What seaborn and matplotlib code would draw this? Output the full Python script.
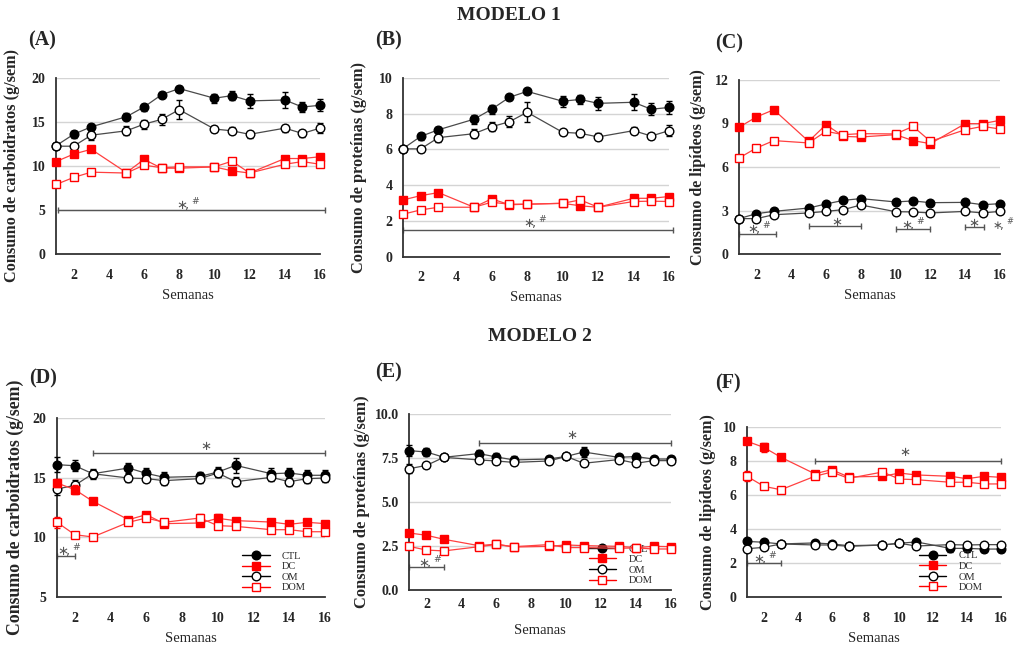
import numpy as np
import pandas as pd
import matplotlib
matplotlib.use("Agg")
import matplotlib.pyplot as plt
from matplotlib.lines import Line2D
import seaborn as sns

# ---------------- data ----------------
weeks_m1 = [1, 2, 3, 5, 6, 7, 8, 10, 11, 12, 14, 15, 16]
weeks_m2 = [1, 2, 3, 5, 6, 7, 9, 10, 11, 13, 14, 15, 16]
groups = ["CTL", "DC", "OM", "DOM"]

# Panel A - carbohydrates, model 1
a_ctl = [12.3, 13.6, 14.45, 15.6, 16.7, 18.1, 18.8, 17.7, 18.0, 17.4, 17.5, 16.7, 16.9]
a_ctl_e = [0.3, 0.4, 0.3, 0.4, 0.4, 0.3, 0.3, 0.5, 0.5, 0.8, 0.9, 0.6, 0.7]
a_om = [12.25, 12.25, 13.5, 14.0, 14.75, 15.3, 16.4, 14.2, 14.0, 13.6, 14.3, 13.7, 14.3]
a_om_e = [0.2, 0.3, 0.5, 0.5, 0.5, 0.6, 1.1, 0.3, 0.4, 0.4, 0.4, 0.4, 0.6]
a_dc = [10.5, 11.35, 11.9, 9.25, 10.75, 9.75, 9.75, 9.9, 9.45, 9.2, 10.85, 10.85, 11.05]
a_dc_e = [0.2, 0.2, 0.2, 0.2, 0.3, 0.2, 0.2, 0.2, 0.2, 0.2, 0.2, 0.2, 0.2]
a_dom = [7.9, 8.7, 9.3, 9.2, 10.1, 9.8, 9.9, 9.9, 10.55, 9.2, 10.2, 10.5, 10.2]
a_dom_e = [0.2, 0.2, 0.2, 0.2, 0.2, 0.2, 0.2, 0.2, 0.3, 0.2, 0.2, 0.2, 0.2]

# Panel B - proteins, model 1
b_ctl = [6.04, 6.73, 7.1, 7.69, 8.25, 8.92, 9.25, 8.7, 8.8, 8.58, 8.64, 8.25, 8.35]
b_ctl_e = [0.1, 0.2, 0.15, 0.25, 0.25, 0.15, 0.15, 0.3, 0.25, 0.35, 0.45, 0.35, 0.35]
b_om = [6.03, 6.03, 6.66, 6.88, 7.27, 7.55, 8.08, 6.96, 6.9, 6.7, 7.05, 6.75, 7.05]
b_om_e = [0.1, 0.15, 0.25, 0.25, 0.25, 0.3, 0.55, 0.15, 0.2, 0.2, 0.2, 0.15, 0.3]
b_dc = [3.17, 3.41, 3.58, 2.76, 3.23, 2.9, 2.93, 2.98, 2.84, 2.76, 3.26, 3.26, 3.36]
b_dc_e = [0.08, 0.1, 0.1, 0.08, 0.1, 0.08, 0.08, 0.08, 0.08, 0.08, 0.1, 0.1, 0.1]
b_dom = [2.37, 2.61, 2.76, 2.76, 3.04, 2.93, 2.93, 2.98, 3.17, 2.76, 3.08, 3.1, 3.08]
b_dom_e = [0.08, 0.08, 0.08, 0.08, 0.08, 0.08, 0.08, 0.08, 0.1, 0.08, 0.08, 0.08, 0.08]

# Panel C - lipids, model 1
c_ctl = [2.44, 2.78, 2.94, 3.17, 3.45, 3.7, 3.82, 3.59, 3.66, 3.54, 3.56, 3.4, 3.47]
c_ctl_e = [0.1, 0.1, 0.1, 0.1, 0.1, 0.1, 0.1, 0.1, 0.1, 0.1, 0.1, 0.1, 0.1]
c_om = [2.44, 2.44, 2.71, 2.83, 2.94, 3.06, 3.38, 2.92, 2.9, 2.83, 2.94, 2.83, 2.94]
c_om_e = [0.1, 0.1, 0.1, 0.1, 0.1, 0.1, 0.15, 0.1, 0.1, 0.1, 0.1, 0.1, 0.1]
c_dc = [8.74, 9.45, 9.95, 7.77, 8.92, 8.11, 8.07, 8.23, 7.82, 7.61, 8.99, 8.99, 9.22]
c_dc_e = [0.2, 0.2, 0.2, 0.2, 0.2, 0.2, 0.2, 0.2, 0.15, 0.2, 0.2, 0.2, 0.2]
c_dom = [6.62, 7.31, 7.82, 7.66, 8.46, 8.23, 8.3, 8.28, 8.8, 7.77, 8.57, 8.8, 8.62]
c_dom_e = [0.15, 0.15, 0.15, 0.2, 0.2, 0.2, 0.2, 0.2, 0.15, 0.2, 0.2, 0.2, 0.2]

# Panel D - carbohydrates, model 2
d_ctl = [16.09, 16.0, 15.33, 15.81, 15.36, 15.03, 15.11, 15.47, 16.03, 15.33, 15.39, 15.2, 15.2]
d_ctl_e = [0.65, 0.45, 0.4, 0.45, 0.45, 0.45, 0.4, 0.45, 0.6, 0.5, 0.45, 0.45, 0.45]
d_om = [14.05, 14.36, 15.33, 14.97, 14.92, 14.75, 14.92, 15.39, 14.66, 15.03, 14.66, 14.92, 14.97]
d_om_e = [0.5, 0.45, 0.35, 0.35, 0.3, 0.35, 0.35, 0.35, 0.4, 0.35, 0.35, 0.35, 0.35]
d_dc = [14.55, 14.0, 13.02, 11.48, 11.9, 11.15, 11.2, 11.59, 11.4, 11.28, 11.09, 11.26, 11.15]
d_dc_e = [0.3, 0.35, 0.25, 0.25, 0.25, 0.2, 0.25, 0.35, 0.25, 0.25, 0.25, 0.2, 0.2]
d_dom = [11.26, 10.22, 10.03, 11.26, 11.62, 11.26, 11.62, 10.98, 10.92, 10.64, 10.64, 10.47, 10.47]
d_dom_e = [0.45, 0.2, 0.2, 0.2, 0.2, 0.2, 0.35, 0.2, 0.2, 0.2, 0.2, 0.2, 0.2]

# Panel E - proteins, model 2
e_ctl = [7.92, 7.84, 7.54, 7.75, 7.56, 7.39, 7.44, 7.59, 7.84, 7.54, 7.58, 7.44, 7.44]
e_ctl_e = [0.3, 0.2, 0.15, 0.2, 0.2, 0.2, 0.15, 0.15, 0.3, 0.2, 0.2, 0.2, 0.2]
e_om = [6.89, 7.08, 7.54, 7.39, 7.33, 7.25, 7.33, 7.59, 7.2, 7.41, 7.2, 7.35, 7.35]
e_om_e = [0.25, 0.15, 0.15, 0.15, 0.15, 0.15, 0.15, 0.15, 0.15, 0.15, 0.15, 0.15, 0.15]
e_dc = [3.24, 3.11, 2.88, 2.52, 2.61, 2.44, 2.48, 2.56, 2.52, 2.48, 2.41, 2.48, 2.46]
e_dc_e = [0.1, 0.1, 0.1, 0.1, 0.1, 0.08, 0.1, 0.1, 0.1, 0.1, 0.1, 0.08, 0.08]
e_dom = [2.48, 2.27, 2.22, 2.46, 2.59, 2.46, 2.58, 2.41, 2.41, 2.37, 2.39, 2.33, 2.33]
e_dom_e = [0.1, 0.08, 0.08, 0.08, 0.08, 0.08, 0.1, 0.08, 0.08, 0.08, 0.08, 0.08, 0.08]

# Panel F - lipids, model 2
f_ctl = [3.27, 3.22, 3.12, 3.18, 3.12, 3.02, 3.06, 3.16, 3.24, 2.86, 2.86, 2.82, 2.82]
f_ctl_e = [0.1, 0.1, 0.08, 0.1, 0.1, 0.08, 0.08, 0.08, 0.12, 0.2, 0.2, 0.2, 0.2]
f_om = [2.84, 2.92, 3.12, 3.06, 3.06, 2.98, 3.06, 3.16, 3.0, 3.08, 3.06, 3.08, 3.08]
f_om_e = [0.1, 0.1, 0.08, 0.1, 0.1, 0.08, 0.08, 0.08, 0.08, 0.08, 0.08, 0.08, 0.08]
f_dc = [9.16, 8.8, 8.22, 7.25, 7.49, 7.06, 7.1, 7.29, 7.18, 7.1, 6.96, 7.1, 7.04]
f_dc_e = [0.15, 0.25, 0.15, 0.15, 0.15, 0.15, 0.15, 0.2, 0.15, 0.15, 0.15, 0.15, 0.15]
f_dom = [7.1, 6.51, 6.31, 7.1, 7.35, 6.98, 7.35, 6.94, 6.9, 6.75, 6.75, 6.65, 6.65]
f_dom_e = [0.3, 0.1, 0.1, 0.1, 0.1, 0.1, 0.15, 0.1, 0.1, 0.1, 0.1, 0.1, 0.1]

titles = ["MODELO 1", "MODELO 2"]
panel_letters = ["(A)", "(B)", "(C)", "(D)", "(E)", "(F)"]
ylabels = ["Consumo de carboidratos (g/sem)", "Consumo de proteínas (g/sem)",
           "Consumo de lipídeos (g/sem)"]
xlabel = "Semanas"
xticks = [2, 4, 6, 8, 10, 12, 14, 16]

# ---------------- style ----------------
sns.set_style("white")
plt.rcParams["font.family"] = ["Liberation Serif", "DejaVu Serif"]
plt.rcParams["mathtext.fontset"] = "dejavusans"

BLACK_LINE = "#4a4a4a"
RED_LINE = "#ff4040"
RED = "#ff0000"
GRID = "#d4d4d4"
SPINE = "#333333"
ANN = "#555555"

W, H = 1014, 645
fig = plt.figure(figsize=(W / 100, H / 100), dpi=100)


def rect(l, r, t, b):
    return [l / W, 1 - b / H, (r - l) / W, (b - t) / H]


# (left, right, top, bottom) in px
axes_px = [
    (56, 320, 78, 254),
    (403, 669, 78, 256.5),
    (739, 1000, 80, 254),
    (57, 325, 418, 597),
    (409, 671, 414, 590),
    (747, 1001, 427, 597),
]
ylab_x = [12, 359, 698, 15, 362, 708]
ylab_size = [11.7, 11.8, 11.6, 12.8, 11.9, 11.6]
xtick_pad = [6.5, 6.5, 6.5, 7.0, 1.5, 7.0]

styles = {
    "CTL": dict(marker="o", color=BLACK_LINE, mfc="black", mec="black", ecol="black", ms=6.2),
    "DC": dict(marker="s", color=RED_LINE, mfc=RED, mec=RED, ecol=RED, ms=6.0),
    "OM": dict(marker="o", color=BLACK_LINE, mfc="white", mec="black", ecol="black", ms=6.2),
    "DOM": dict(marker="s", color=RED_LINE, mfc="white", mec=RED, ecol=RED, ms=5.8),
}


def draw_series(ax, weeks, vals, errs, grp, z):
    st = styles[grp]
    df = pd.DataFrame({"Semana": weeks, "valor": vals})
    eb = ax.errorbar(weeks, vals, yerr=errs, fmt="none", ecolor=st["ecol"],
                     elinewidth=1.0, capsize=2.2, capthick=1.0, zorder=z)
    for ch in eb.get_children():
        ch.set_clip_on(False)
    sns.lineplot(data=df, x="Semana", y="valor", ax=ax, color=st["color"],
                 linewidth=0.9, marker=st["marker"], markersize=st["ms"],
                 markerfacecolor=st["mfc"], markeredgecolor=st["mec"],
                 markeredgewidth=1.0, zorder=z + 0.5, legend=False, clip_on=False)


def bracket(ax, x0, x1, y):
    ax.plot([x0, x1], [y, y], color=ANN, lw=1.0, marker="|", ms=4,
            mew=1.0, clip_on=False, zorder=2)


def star(ax, x, y, sym="*,#", size=9.5):
    txt = r"$\ast$" if sym == "*" else r"$\ast\!,^{\#}$"
    ax.text(x, y, txt, ha="center", va="center", fontsize=size, color=ANN,
            clip_on=False)


panels = [
    (weeks_m1, (0, 20), [0, 5, 10, 15, 20], "%d",
     [(a_ctl, a_ctl_e, "CTL"), (a_om, a_om_e, "OM"), (a_dc, a_dc_e, "DC"), (a_dom, a_dom_e, "DOM")]),
    (weeks_m1, (0, 10), [0, 2, 4, 6, 8, 10], "%d",
     [(b_ctl, b_ctl_e, "CTL"), (b_om, b_om_e, "OM"), (b_dc, b_dc_e, "DC"), (b_dom, b_dom_e, "DOM")]),
    (weeks_m1, (0, 12), [0, 3, 6, 9, 12], "%d",
     [(c_ctl, c_ctl_e, "CTL"), (c_om, c_om_e, "OM"), (c_dc, c_dc_e, "DC"), (c_dom, c_dom_e, "DOM")]),
    (weeks_m2, (5, 20), [5, 10, 15, 20], "%d",
     [(d_ctl, d_ctl_e, "CTL"), (d_om, d_om_e, "OM"), (d_dc, d_dc_e, "DC"), (d_dom, d_dom_e, "DOM")]),
    (weeks_m2, (0, 10), [0, 2.5, 5, 7.5, 10], "%.1f",
     [(e_ctl, e_ctl_e, "CTL"), (e_om, e_om_e, "OM"), (e_dc, e_dc_e, "DC"), (e_dom, e_dom_e, "DOM")]),
    (weeks_m2, (0, 10), [0, 2, 4, 6, 8, 10], "%d",
     [(f_ctl, f_ctl_e, "CTL"), (f_om, f_om_e, "OM"), (f_dc, f_dc_e, "DC"), (f_dom, f_dom_e, "DOM")]),
]

axes = []
for i, (px, (weeks, ylim, yticks, fmt, series)) in enumerate(zip(axes_px, panels)):
    ax = fig.add_axes(rect(*px))
    axes.append(ax)
    l, r, t, b = px
    ax.set_xlim(1, 16)
    ax.set_ylim(*ylim)
    ax.set_xticks(xticks)
    ax.set_yticks(yticks)
    ax.set_yticklabels([fmt % v for v in yticks])
    for v in yticks[1:]:
        ax.axhline(v, color=GRID, lw=1.0, zorder=0)
    ax.grid(False)
    for s in ["top", "right"]:
        ax.spines[s].set_visible(False)
    for s in ["left", "bottom"]:
        ax.spines[s].set_color(SPINE)
        ax.spines[s].set_linewidth(1.3)
    ax.tick_params(axis="both", direction="out", length=4, width=1.0,
                   color=SPINE, labelsize=10)
    ax.tick_params(axis="y", pad=3.5)
    ax.tick_params(axis="x", pad=xtick_pad[i])
    for lab in ax.get_xticklabels() + ax.get_yticklabels():
        lab.set_fontweight("bold")
    z = 3
    for vals, errs, grp in series:
        draw_series(ax, weeks, vals, errs, grp, z)
        z += 1
    ax.set_ylabel(ylabels[i % 3], fontsize=ylab_size[i], fontweight="bold")
    ax.yaxis.label.set_va("center")
    ax.yaxis.set_label_coords((ylab_x[i] - l) / (r - l), 0.5)
    ax.set_xlabel(xlabel, fontsize=10.5)
    ax.xaxis.label.set_va("center")
    ax.xaxis.set_label_coords(0.5, -41.0 / (b - t))

# annotations
axA, axB, axC, axD, axE, axF = axes
bracket(axA, 1.1, 16.3, 5.0); star(axA, 8.5, 5.6)
bracket(axB, 1.0, 16.2, 1.5); star(axB, 8.45, 1.86)
bracket(axC, 1.0, 3.1, 1.4); star(axC, 2.2, 1.72)
bracket(axC, 5.0, 8.0, 1.95); star(axC, 6.6, 2.16, "*")
bracket(axC, 10.0, 12.0, 1.75); star(axC, 11.0, 2.0)
bracket(axC, 14.0, 15.1, 1.86); star(axC, 14.5, 2.07, "*")
star(axC, 16.2, 2.0, size=8.5)
bracket(axD, 3.0, 16.0, 17.07); star(axD, 9.3, 17.6, "*")
bracket(axD, 1.0, 2.0, 8.4); star(axD, 1.7, 8.8)
bracket(axE, 5.0, 16.0, 8.35); star(axE, 10.3, 8.8, "*")
bracket(axE, 1.0, 3.0, 1.29); star(axE, 2.2, 1.5)
bracket(axF, 5.0, 16.0, 8.02); star(axF, 10.3, 8.5, "*")
bracket(axF, 1.0, 3.0, 1.98); star(axF, 2.1, 2.2)

# legends
handles = []
for g in groups:
    st = styles[g]
    lc = "black" if g in ("CTL", "OM") else RED
    handles.append(Line2D([], [], color=lc, lw=1.0, marker=st["marker"],
                          ms=st["ms"], mfc=st["mfc"], mec=st["mec"], mew=1.0))
for ax in (axD, axE, axF):
    ax.legend(handles, groups, loc="lower right", bbox_to_anchor=(0.96, -0.02),
              frameon=False, fontsize=7.5, handlelength=2.6, labelspacing=0.12,
              handletextpad=1.2, borderpad=0.3)

# panel letters and titles
letter_pos = [(28, 40), (375, 40), (715, 43), (29, 378), (375, 372), (715, 383)]
for (x, y), t in zip(letter_pos, panel_letters):
    fig.text(x / W, 1 - y / H, t, fontsize=14.5, fontweight="bold", ha="left", va="center")
fig.text(509 / W, 1 - 15 / H, titles[0], fontsize=14, fontweight="bold", ha="center", va="center")
fig.text(540 / W, 1 - 337 / H, titles[1], fontsize=14, fontweight="bold", ha="center", va="center")

fig.savefig("out.png", dpi=100)
